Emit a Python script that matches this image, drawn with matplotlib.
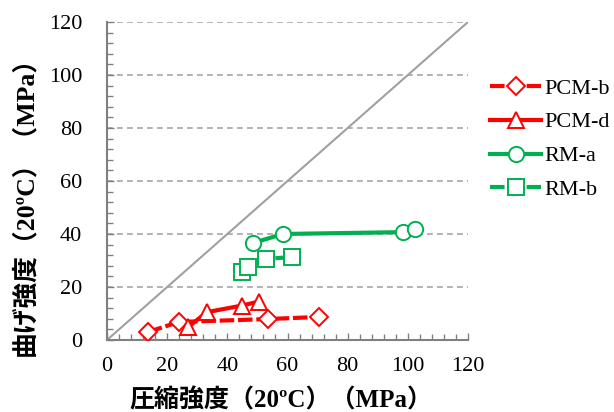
import matplotlib
matplotlib.use("Agg")
import matplotlib.pyplot as plt
from matplotlib.ticker import MultipleLocator

# Data
pcm_b_x = [13.6, 23.9, 53.5, 70.5]
pcm_b_y = [3.0, 6.8, 7.9, 8.7]
pcm_d_x = [26.9, 33.2, 44.9, 50.5]
pcm_d_y = [4.8, 10.5, 13.0, 14.5]
rm_a_x = [48.5, 58.5, 98.4, 102.4]
rm_a_y = [36.6, 40.0, 40.7, 41.8]
rm_b_x = [44.9, 46.9, 52.9, 61.5]
rm_b_y = [25.7, 27.5, 30.6, 31.3]
ticks = [0, 20, 40, 60, 80, 100, 120]
xlabel = "圧縮強度（20ºC）（MPa）"
ylabel = "曲げ強度（20ºC）（MPa）"

RED = "#FF0000"
GREEN = "#00B050"
GRAY = "#A6A6A6"

fig = plt.figure(figsize=(6.14, 4.12), dpi=100)
ax = fig.add_axes([0.1743, 0.1748, 0.7622 - 0.1743, 0.9466 - 0.1748])

ax.plot([0, 120], [0, 120], color="#A0A0A0", lw=1.5, zorder=1)

for v in ticks[1:]:
    ax.axhline(v, color=GRAY, lw=1.2, ls=(0, (3.5, 2.5)), zorder=0)

ms = 11
dash = (0, (3.5, 0.9))
ax.plot(pcm_b_x, pcm_b_y, color=RED, lw=3, ls=dash, marker="D", ms=ms * 0.85,
        mfc="white", mec=RED, mew=1.4, label="PCM-b", zorder=3)
ax.plot(pcm_d_x, pcm_d_y, color=RED, lw=3, ls="-", marker="^", ms=ms,
        mfc="white", mec=RED, mew=1.4, label="PCM-d", zorder=3)
ax.plot(rm_a_x, rm_a_y, color=GREEN, lw=3, ls="-", marker="o", ms=ms,
        mfc="white", mec=GREEN, mew=1.4, label="RM-a", zorder=3)
ax.plot(rm_b_x, rm_b_y, color=GREEN, lw=3, ls=dash, marker="s", ms=ms,
        mfc="white", mec=GREEN, mew=1.4, label="RM-b", zorder=3)

ax.set_xlim(0, 120)
ax.set_ylim(0, 120)
ax.set_xticks(ticks)
ax.set_yticks(ticks)
ax.xaxis.set_minor_locator(MultipleLocator(4))
ax.yaxis.set_minor_locator(MultipleLocator(4))
ax.tick_params(axis="both", which="minor", direction="in", color="#808080",
               width=1, length=4)
ax.tick_params(axis="x", which="major", direction="in", color="#808080",
               width=1, length=5, labelsize=16, pad=12)
ax.tick_params(axis="y", which="major", direction="in", color="#808080",
               width=1, length=5, labelsize=16, pad=18)
for lab in ax.get_xticklabels() + ax.get_yticklabels():
    lab.set_fontfamily("Liberation Serif")

for s in ["top", "right"]:
    ax.spines[s].set_visible(False)
for s in ["left", "bottom"]:
    ax.spines[s].set_color("#808080")
    ax.spines[s].set_linewidth(1.5)

fam = ["Liberation Serif", "Noto Sans CJK JP"]
ax.set_xlabel(xlabel, fontfamily=fam, fontweight="bold", fontsize=18)
ax.set_ylabel(ylabel, fontfamily=fam, fontweight="bold", fontsize=18.5)
ax.xaxis.set_label_coords(0.482, -0.151)
ax.yaxis.set_label_coords(-0.194, 0.44)

leg = ax.legend(loc="upper left", bbox_to_anchor=(1.061, 0.824), frameon=False,
                prop={"family": "Liberation Serif", "size": 16},
                handlelength=2.3, labelspacing=0.6, handletextpad=0.15,
                borderpad=0, borderaxespad=0)

fig.savefig("out.png", dpi=100)
